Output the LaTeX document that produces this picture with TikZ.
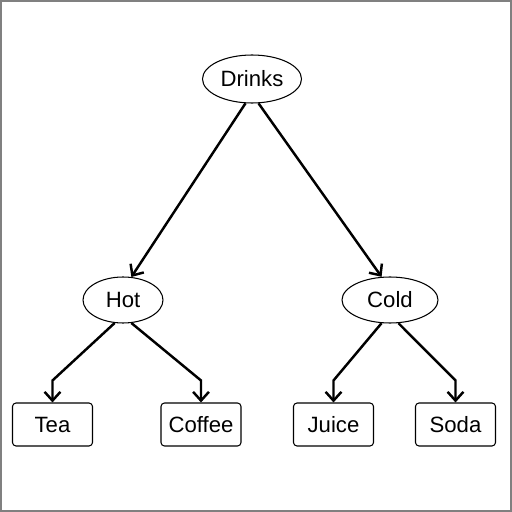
\documentclass[tikz,border=0pt]{standalone}
\usepackage{fontspec}
\setmainfont{Liberation Sans}
\usetikzlibrary{arrows.meta, shapes.geometric, positioning}

\begin{document}
\begin{tikzpicture}[on grid, font=\fontsize{12.6}{15}\selectfont,
		cat/.style={ellipse, draw, line width=0.6pt, inner sep=0pt, minimum height=0.92cm},
		item/.style={rectangle, draw, rounded corners=2pt, line width=0.6pt, inner sep=0pt, minimum width=1.6cm, minimum height=0.86cm},
		link/.style={line width=1.4pt, -{Straight Barb[length=5pt,width=9pt,line width=1.4pt]}}]
			\useasboundingbox (0,0) rectangle (10.24,10.24);
			\draw[gray, line width=0.8pt] (0.02,0.02) rectangle (10.22,10.22);
			\node[cat, minimum width=1.98cm, minimum height=0.96cm] (Drinks) at (5.04,8.66) {Drinks};
			\node[cat, minimum width=1.6cm] (Hot) [below left=4.42cm and 2.58cm of Drinks] {Hot};
			\node[cat, minimum width=1.92cm] (Cold) [below right=4.42cm and 2.76cm of Drinks] {Cold};
			\node[item] (Tea) [below left=2.49cm and 1.41cm of Hot] {Tea};
			\node[item] (Coffee) [below right=2.49cm and 1.56cm of Hot] {Coffee};
			\node[item] (Juice) [below left=2.49cm and 1.13cm of Cold] {Juice};
			\node[item] (Soda) [below right=2.49cm and 1.31cm of Cold] {Soda};
			\draw[link] (Drinks.-105) -- (Hot.70);
			\draw[link] (Drinks.-75) -- (Cold.110);
			\draw[link] (Hot.-110) -- ([yshift=0.44cm]Tea.north) -- (Tea.north);
			\draw[link] (Hot.-70) -- ([yshift=0.44cm]Coffee.north) -- (Coffee.north);
			\draw[link] (Cold.-110) -- ([yshift=0.44cm]Juice.north) -- (Juice.north);
			\draw[link] (Cold.-70) -- ([yshift=0.44cm]Soda.north) -- (Soda.north);
		\end{tikzpicture}
\end{document}
